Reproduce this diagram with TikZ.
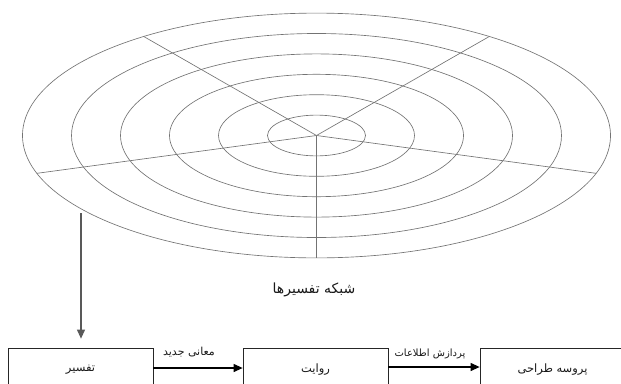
\documentclass[tikz,border=0pt]{standalone}
\usepackage{fontspec}
\usetikzlibrary{arrows.meta,calc}
\newfontfamily\arabicfont[Script=Arabic]{DejaVu Sans}
\TeXXeTstate=1
\tikzset{
  gridline/.style={draw=black!55, line width=0.65pt},
  stepbox/.style={draw=black!85, line width=0.75pt, minimum width=145pt, minimum height=44pt, inner sep=0pt, font=\arabicfont\fontsize{11.5}{13}\selectfont, text=black!90},
  flowarrow/.style={draw=black, line width=1.1pt, -{Triangle[length=9pt,width=8pt]}},
  lbl/.style={inner sep=0pt, text=black!90},
}
\begin{document}
\begin{tikzpicture}[x=1pt,y=-1pt]
\useasboundingbox (0,0) rectangle (621,383);
\clip (0,0) rectangle (621,383);
\coordinate (c) at (316.5,135.5);
% concentric ellipses
\foreach \k in {1,...,6}{
  \draw[gridline] (c) ellipse [x radius={49*\k}, y radius={20.4*\k}];
}
% spokes
\foreach \a in {54,126,198,270,342}{
  \draw[gridline] (c) -- ({316.5+294*cos(\a)},{135.5-122.4*sin(\a)});
}
% title
\node[inner sep=0pt, font=\arabicfont\fontsize{14}{16}\selectfont, text=black!90] (title) at (314,290) {\beginR شبکه تفسیرها\endR};
% boxes
\node[stepbox] (b1) at (80.5,370) {\beginR تفسیر\endR};
\node[stepbox] (b2) at (315.5,370) {\beginR روایت\endR};
\node[stepbox] (b3) at (552.5,370) {\beginR پروسه طراحی\endR};
% arrows
\draw[flowarrow] (b1.east |- 0,368) -- (b2.west |- 0,368);
\draw[flowarrow] (b2.east |- 0,367) -- (b3.west |- 0,367);
\node[lbl, font=\arabicfont\fontsize{11}{13}\selectfont] (l1) at (189,352) {\beginR معانی جدید\endR};
\node[lbl, font=\arabicfont\fontsize{10}{12}\selectfont] (l2) at (430,354) {\beginR پردازش اطلاعات\endR};
% vertical arrow
\coordinate (s) at (81,213);
\draw[draw=black!65, line width=1.1pt, -{Triangle[length=9pt,width=8pt]}, shorten >=9pt] (s) -- (b1.north -| s);
\end{tikzpicture}
\end{document}
